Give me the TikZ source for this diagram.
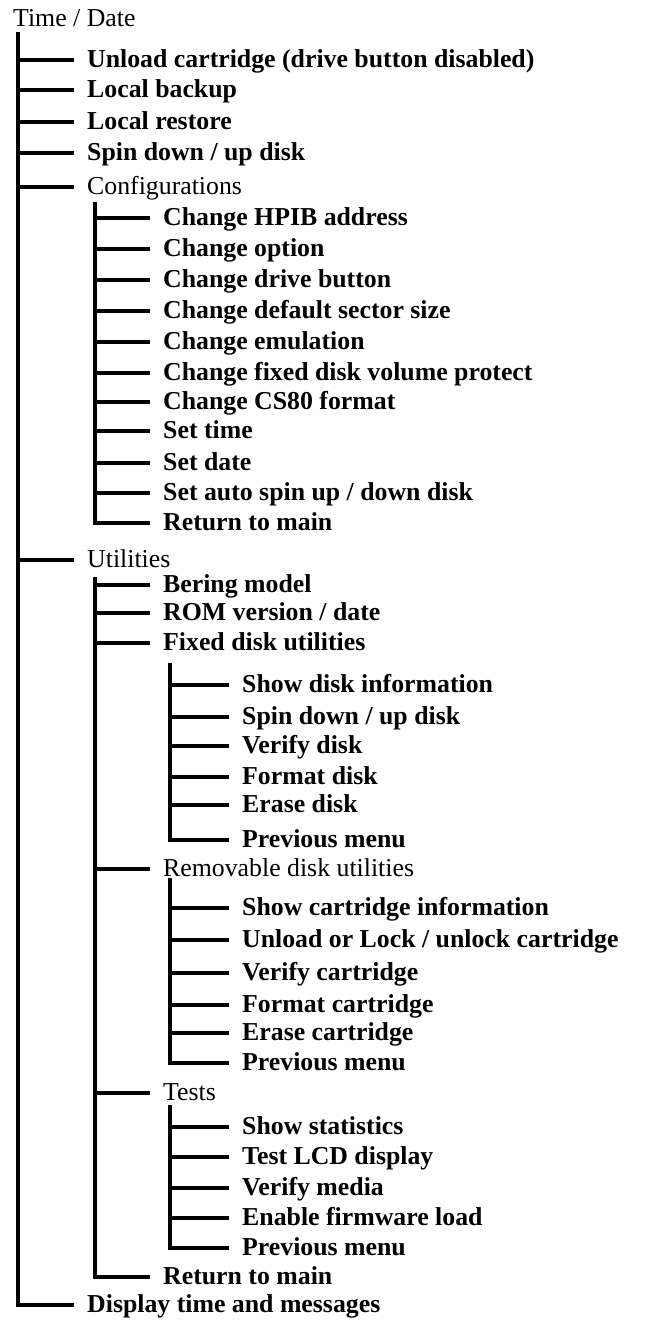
\documentclass[tikz,border=0pt]{standalone}
\usepackage{fontspec}
\setmainfont{Liberation Serif}
\newcommand{\menusize}{\fontsize{25.8}{30}\selectfont}

\begin{document}
\begin{tikzpicture}[x=1pt, y=-1pt,
  item/.style={anchor=west, inner sep=0pt, text height=19pt, text depth=5pt, font=\menusize\bfseries},
  head/.style={item, font=\menusize},
  branch/.style={line width=3.2pt, shorten >=13pt}]
\useasboundingbox (0,0) rectangle (645,1320);

% top level
\node[head] (root) at (13,19) {Time / Date};
\node[item] (unload) at (87,60) {Unload cartridge (drive button disabled)};
\node[item] (lbackup) at (87,90) {Local backup};
\node[item] (lrestore) at (87,122) {Local restore};
\node[item] (spin) at (87,153) {Spin down / up disk};
\node[head] (config) at (87,187) {Configurations};
\node[head] (util) at (87,560) {Utilities};
\node[item] (display) at (87,1305) {Display time and messages};

% configurations
\node[item] (hpib) at (163,218) {Change HPIB address};
\node[item] (option) at (163,249) {Change option};
\node[item] (button) at (163,280) {Change drive button};
\node[item] (sector) at (163,311) {Change default sector size};
\node[item] (emul) at (163,342) {Change emulation};
\node[item] (protect) at (163,373) {Change fixed disk volume protect};
\node[item] (csfmt) at (163,402) {Change CS80 format};
\node[item] (settime) at (163,431) {Set time};
\node[item] (setdate) at (163,463) {Set date};
\node[item] (autospin) at (163,493) {Set auto spin up / down disk};
\node[item] (cfgret) at (163,523) {Return to main};

% utilities
\node[item] (model) at (163,585) {Bering model};
\node[item] (romver) at (163,613) {ROM version / date};
\node[item] (fixed) at (163,643) {Fixed disk utilities};
\node[head] (remov) at (163,869) {Removable disk utilities};
\node[head] (tests) at (163,1093) {Tests};
\node[item] (utilret) at (163,1277) {Return to main};

% fixed disk
\node[item] (fshow) at (242,685) {Show disk information};
\node[item] (fspin) at (242,717) {Spin down / up disk};
\node[item] (fverify) at (242,746) {Verify disk};
\node[item] (fformat) at (242,777) {Format disk};
\node[item] (ferase) at (242,805) {Erase disk};
\node[item] (fprev) at (242,840) {Previous menu};

% removable disk
\node[item] (rshow) at (242,908) {Show cartridge information};
\node[item] (runload) at (242,940) {Unload or Lock / unlock cartridge};
\node[item] (rverify) at (242,973) {Verify cartridge};
\node[item] (rformat) at (242,1005) {Format cartridge};
\node[item] (rerase) at (242,1033) {Erase cartridge};
\node[item] (rprev) at (242,1063) {Previous menu};

% tests
\node[item] (tstats) at (242,1127) {Show statistics};
\node[item] (tlcd) at (242,1157) {Test LCD display};
\node[item] (tmedia) at (242,1188) {Verify media};
\node[item] (tfirm) at (242,1218) {Enable firmware load};
\node[item] (tprev) at (242,1248) {Previous menu};

\coordinate (trunk) at (18,32);
\coordinate (cfgtrunk) at (95,202);
\coordinate (utiltrunk) at (95,577);
\coordinate (fixtrunk) at (170,663);
\coordinate (remtrunk) at (170,878);
\coordinate (testtrunk) at (170,1105);

\foreach \n in {unload,lbackup,lrestore,spin,config,util}
  \draw[branch] (trunk |- \n.west) -- (\n.west);
\draw[branch] (trunk) |- (display.west);

\foreach \n in {hpib,option,button,sector,emul,protect,csfmt,settime,setdate,autospin}
  \draw[branch] (cfgtrunk |- \n.west) -- (\n.west);
\draw[branch] (cfgtrunk) |- (cfgret.west);

\foreach \n in {model,romver,fixed,remov,tests}
  \draw[branch] (utiltrunk |- \n.west) -- (\n.west);
\draw[branch] (utiltrunk) |- (utilret.west);

\foreach \n in {fshow,fspin,fverify,fformat,ferase}
  \draw[branch] (fixtrunk |- \n.west) -- (\n.west);
\draw[branch] (fixtrunk) |- (fprev.west);

\foreach \n in {rshow,runload,rverify,rformat,rerase}
  \draw[branch] (remtrunk |- \n.west) -- (\n.west);
\draw[branch] (remtrunk) |- (rprev.west);

\foreach \n in {tstats,tlcd,tmedia,tfirm}
  \draw[branch] (testtrunk |- \n.west) -- (\n.west);
\draw[branch] (testtrunk) |- (tprev.west);
\end{tikzpicture}
\end{document}
